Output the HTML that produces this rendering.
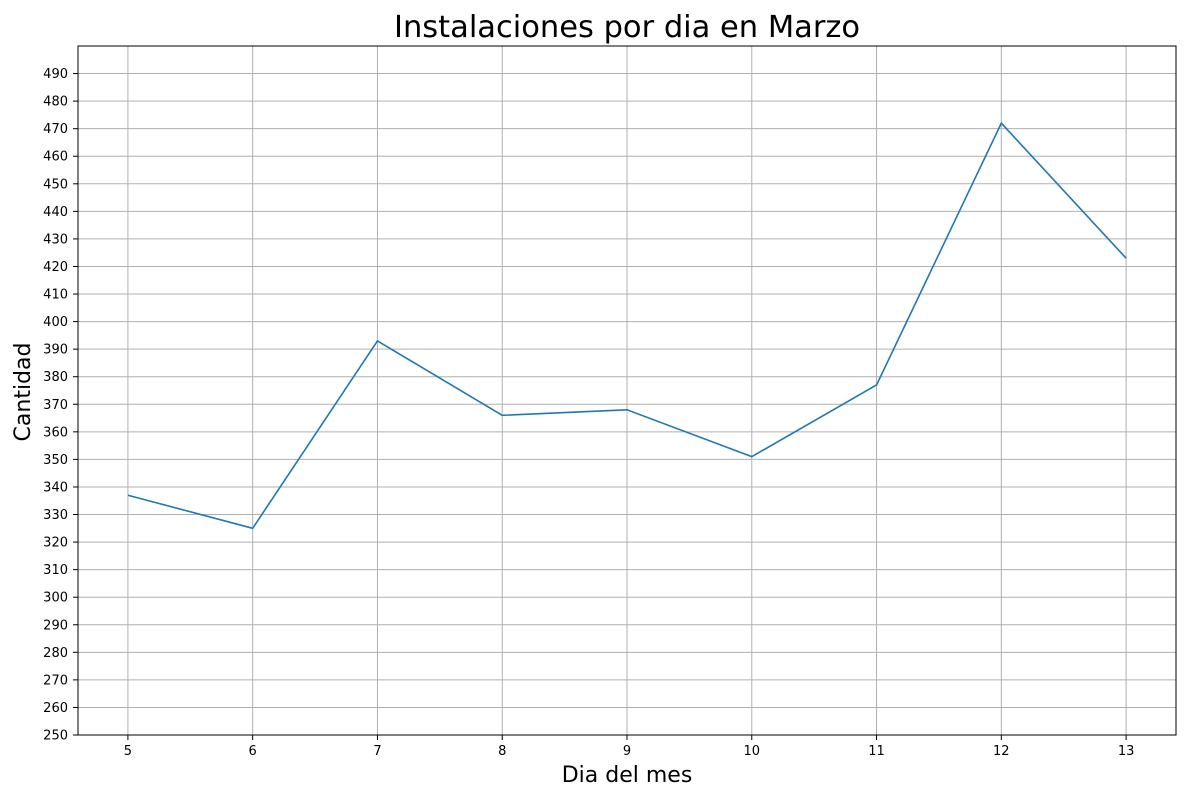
<!DOCTYPE html>
<html><head><meta charset="utf-8"><style>
body{margin:0;background:#fff;}
svg text{font-family:"DejaVu Sans","Liberation Sans",sans-serif;}
</style></head><body>
<svg id="chart" width="1200" height="800">
<rect width="1200" height="800" fill="#fff"/>
<g id="grid"></g>
<g id="ticks"></g>
<path id="line" fill="none" stroke="#1f77b4" stroke-width="1.6"/>
<rect x="78" y="46" width="1098" height="689" fill="none" stroke="#000" stroke-width="1"/>
<text x="627" y="37" font-size="30.5" text-anchor="middle">Instalaciones por dia en Marzo</text>
<text x="627" y="782" font-size="22" text-anchor="middle">Dia del mes</text>
<text transform="translate(30,392) rotate(-90)" font-size="22" text-anchor="middle">Cantidad</text>
</svg>
<script>
const days=[5,6,7,8,9,10,11,12,13];
const installs=[337,325,393,366,368,351,377,472,423];
const yTicks=[250,260,270,280,290,300,310,320,330,340,350,360,370,380,390,400,410,420,430,440,450,460,470,480,490];
const L=78,R=1176,T=46,B=735,xMin=4.6,xMax=13.4,yMin=250,yMax=500;
const xs=v=>L+(v-xMin)/(xMax-xMin)*(R-L);
const ys=v=>B-(v-yMin)/(yMax-yMin)*(B-T);
const NS="http://www.w3.org/2000/svg";
const grid=document.getElementById('grid'),ticks=document.getElementById('ticks');
function mk(tag,attrs,parent){const e=document.createElementNS(NS,tag);for(const k in attrs)e.setAttribute(k,attrs[k]);parent.appendChild(e);return e;}
days.forEach(d=>{
 const x=xs(d);
 const g=mk('line',{x1:x,x2:x,y1:T,y2:B,stroke:'#b0b0b0','stroke-width':1},grid);
 
 
 mk('line',{x1:x,x2:x,y1:B,y2:B+5,stroke:'#000'},ticks);
 const t=mk('text',{x:x,y:B+20,'font-size':13,'text-anchor':'middle'},ticks);
 t.textContent=d;
 
 
});
yTicks.forEach(v=>{
 const y=ys(v);
 const g=mk('line',{x1:L,x2:R,y1:y,y2:y,stroke:'#b0b0b0','stroke-width':1},grid);
 
 
 mk('line',{x1:L-5,x2:L,y1:y,y2:y,stroke:'#000'},ticks);
 const t=mk('text',{x:L-10,y:y+4.5,'font-size':13,'text-anchor':'end'},ticks);
 t.textContent=v;
 
 
});
document.getElementById('line').setAttribute('d',days.map((d,i)=>(i?'L':'M')+xs(d)+','+ys(installs[i])).join(' '));
</script>
</body></html>
